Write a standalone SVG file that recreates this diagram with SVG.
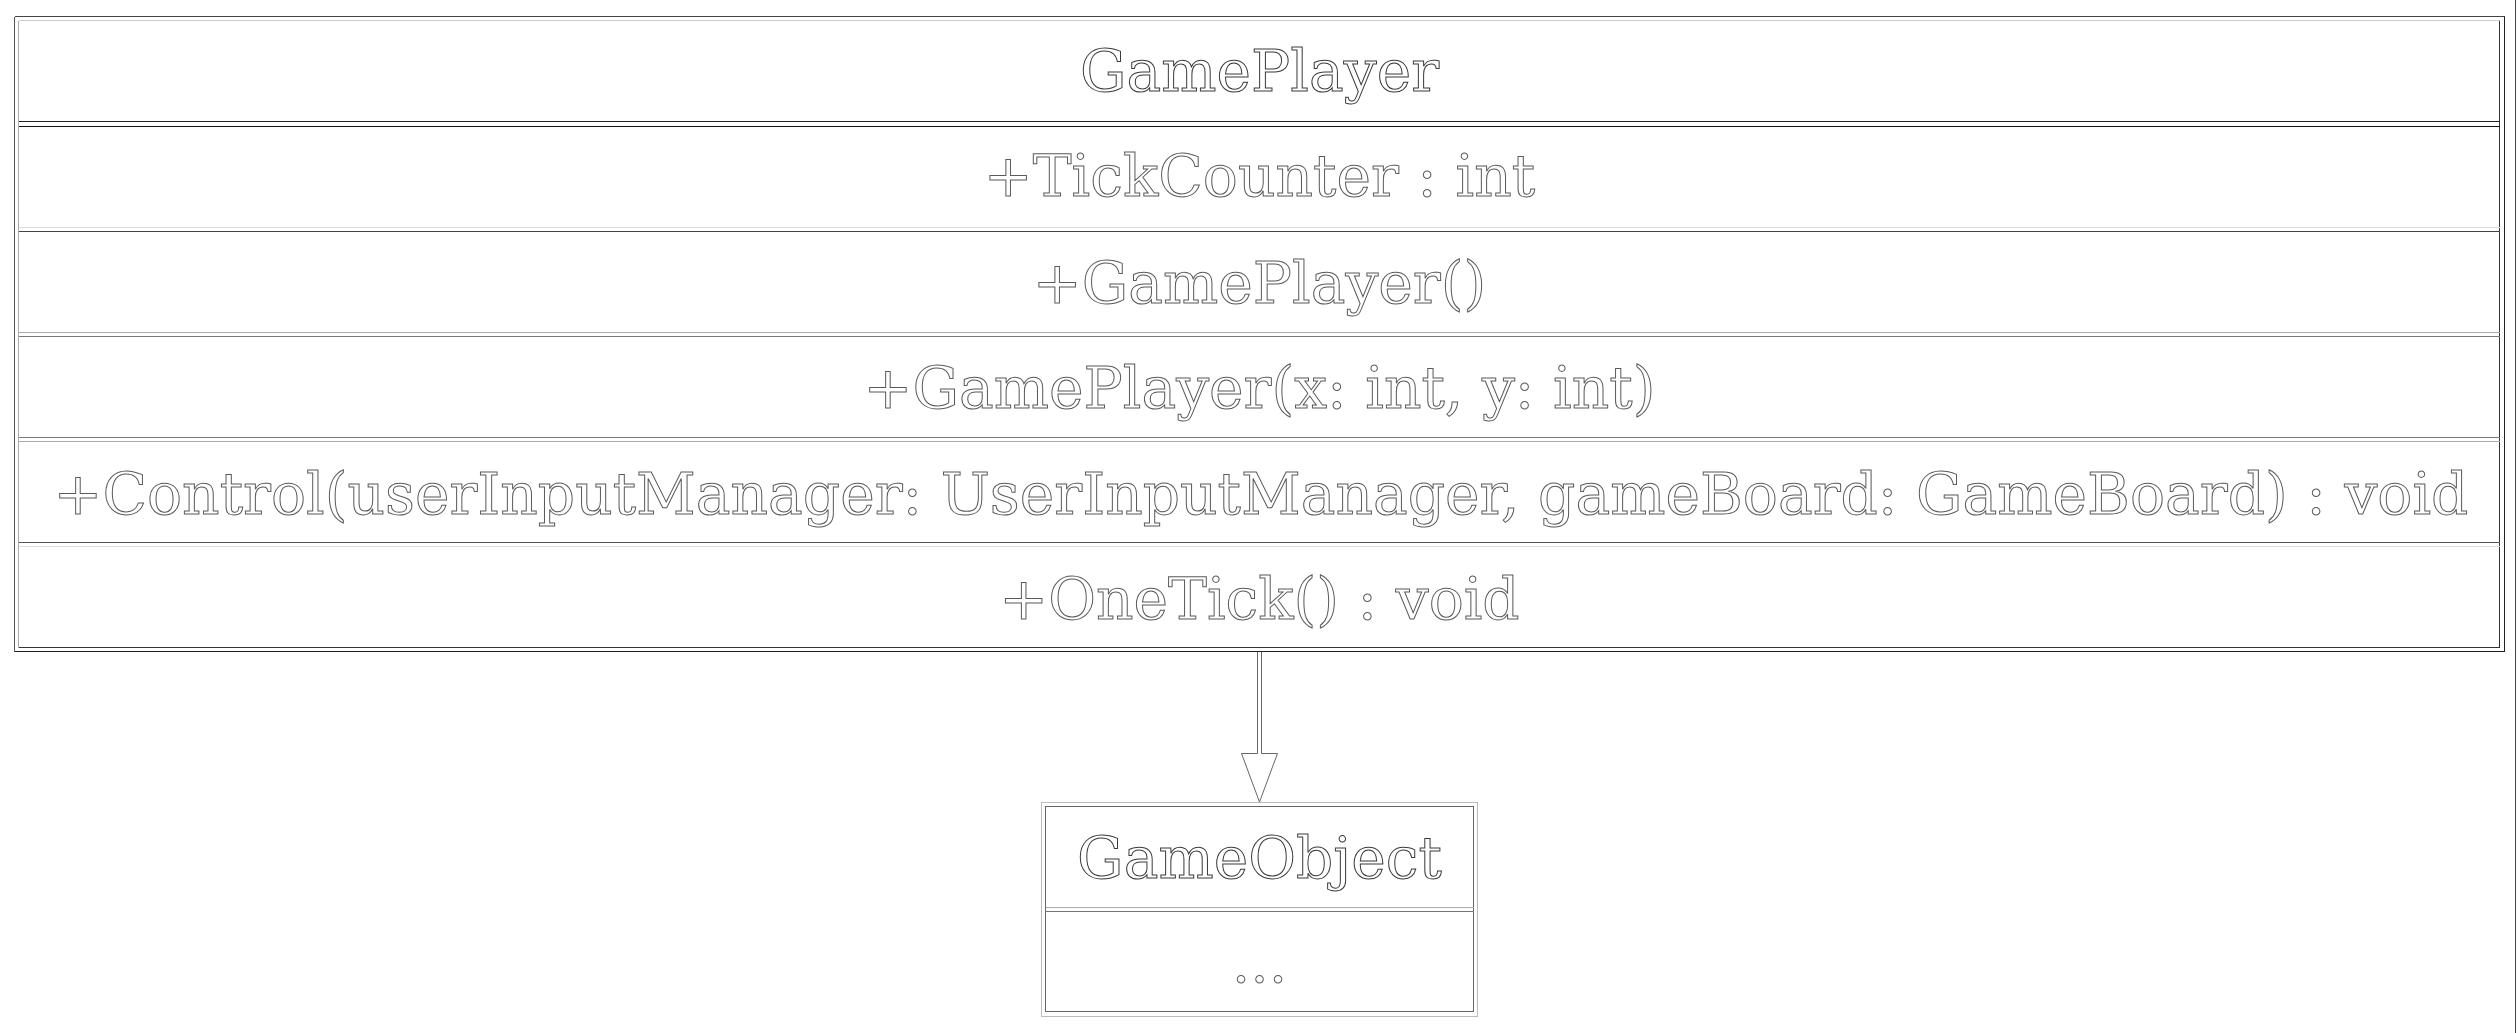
<svg xmlns="http://www.w3.org/2000/svg" width="2519" height="1033" viewBox="0 0 2519 1033">
  <style>
    .edge { fill: none; stroke-width: 1; shape-rendering: crispEdges; }
    .label { font-family: "DejaVu Serif", "Liberation Serif", serif; font-size: 58.3px; text-anchor: middle; fill: #ffffff; stroke: #5a5a5a; stroke-width: 1; }
    .title { stroke: #3a3a3a; }
  </style>
  <rect width="2519" height="1033" fill="#ffffff"/>

  <!-- page edge on the right -->
  <line class="edge" x1="2515.5" y1="0" x2="2515.5" y2="1033" stroke="#444"/>

  <!-- class GamePlayer -->
  <g id="GamePlayer">
    <!-- outer frame -->
    <line class="edge" x1="14.5" y1="16.5" x2="14.5" y2="651.5" stroke="#555"/>
    <line class="edge" x1="14.5" y1="16.5" x2="2504.5" y2="16.5" stroke="#444"/>
    <line class="edge" x1="2504.5" y1="16.5" x2="2504.5" y2="651.5" stroke="#222"/>
    <line class="edge" x1="14.5" y1="651.5" x2="2504.5" y2="651.5" stroke="#222"/>
    <!-- compartment sides -->
    <line class="edge" x1="18.5" y1="20.5" x2="18.5" y2="647.5" stroke="#aaa"/>
    <line class="edge" x1="2499.5" y1="20.5" x2="2499.5" y2="647.5" stroke="#333"/>
    <!-- compartment rules -->
    <line class="edge" x1="18.5" y1="20.5" x2="2499.5" y2="20.5" stroke="#ccc"/>
    <line class="edge" x1="18.5" y1="121.5" x2="2499.5" y2="121.5" stroke="#222" stroke-width="1.5"/>
    <line class="edge" x1="18.5" y1="126.5" x2="2499.5" y2="126.5" stroke="#111" stroke-width="1.5"/>
    <line class="edge" x1="18.5" y1="227.5" x2="2499.5" y2="227.5" stroke="#ddd"/>
    <line class="edge" x1="18.5" y1="231.5" x2="2499.5" y2="231.5" stroke="#444"/>
    <line class="edge" x1="18.5" y1="332.5" x2="2499.5" y2="332.5" stroke="#aaa"/>
    <line class="edge" x1="18.5" y1="336.5" x2="2499.5" y2="336.5" stroke="#777"/>
    <line class="edge" x1="18.5" y1="437.5" x2="2499.5" y2="437.5" stroke="#777"/>
    <line class="edge" x1="18.5" y1="441.5" x2="2499.5" y2="441.5" stroke="#aaa"/>
    <line class="edge" x1="18.5" y1="542.5" x2="2499.5" y2="542.5" stroke="#555"/>
    <line class="edge" x1="18.5" y1="546.5" x2="2499.5" y2="546.5" stroke="#ddd"/>
    <line class="edge" x1="18.5" y1="647.5" x2="2499.5" y2="647.5" stroke="#333"/>
    <!-- name, field and operations -->
    <text class="label title" x="1259.5" y="91">GamePlayer</text>
    <text class="label" x="1259.5" y="196">+TickCounter : int</text>
    <text class="label" x="1259.5" y="303">+GamePlayer()</text>
    <text class="label" x="1259.5" y="408">+GamePlayer(x: int, y: int)</text>
    <text class="label" x="1261" y="514">+Control(userInputManager: UserInputManager, gameBoard: GameBoard) : void</text>
    <text class="label" x="1259.5" y="619">+OneTick() : void</text>
  </g>

  <!-- class GameObject -->
  <g id="GameObject">
    <rect class="edge" x="1041.5" y="802.5" width="436" height="214" stroke="#bbb"/>
    <rect class="edge" x="1045.5" y="806.5" width="428" height="205" stroke="#666"/>
    <line class="edge" x1="1045.5" y1="907.5" x2="1473.5" y2="907.5" stroke="#aaa"/>
    <line class="edge" x1="1045.5" y1="911.5" x2="1473.5" y2="911.5" stroke="#777"/>
    <text class="label title" x="1259.5" y="878">GameObject</text>
    <text class="label" x="1259.5" y="982">...</text>
  </g>

  <!-- generalization: GamePlayer inherits GameObject -->
  <g id="connectors">
    <path d="M1257.5,652 V753.5 H1241.5 L1259.5,802 L1277.5,753.5 H1261.5 V652" fill="#ffffff" stroke="#666" stroke-width="1"/>
  </g>
</svg>
